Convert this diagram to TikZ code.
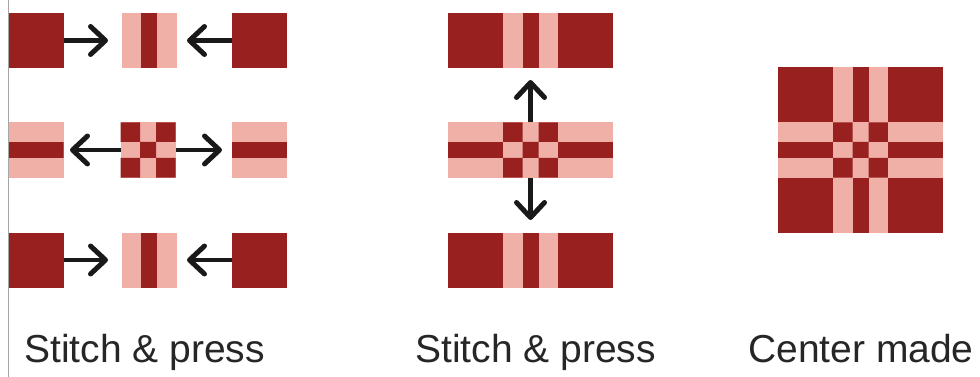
\documentclass[tikz,border=0pt]{standalone}
\usepackage{fontspec}
\setsansfont{Liberation Sans}
\usetikzlibrary{positioning,arrows.meta}

\definecolor{quiltred}{RGB}{152,32,30}
\definecolor{quiltpink}{RGB}{240,176,168}

\tikzset{
  piece/.style={inner sep=0pt,outer sep=0pt,minimum size=55pt,fill=quiltred},
  vpiece/.style={piece,fill=quiltpink,path picture={
    \fill[quiltred] ([xshift=-8pt]path picture bounding box.north) rectangle ([xshift=8pt]path picture bounding box.south);}},
  hpiece/.style={piece,fill=quiltpink,path picture={
    \fill[quiltred] ([yshift=8pt]path picture bounding box.west) rectangle ([yshift=-8pt]path picture bounding box.east);}},
  ckpiece/.style={piece,fill=quiltpink,path picture={
    \fill[quiltred] (path picture bounding box.north west) rectangle ++(19.5pt,-19.5pt)
      (path picture bounding box.north east) rectangle ++(-19.5pt,-19.5pt)
      (path picture bounding box.south west) rectangle ++(19.5pt,19.5pt)
      (path picture bounding box.south east) rectangle ++(-19.5pt,19.5pt)
      ([shift={(-8pt,8pt)}]path picture bounding box.center) rectangle ++(16pt,-16pt);}},
  arr/.style={line width=4.5pt,black!90,-{Straight Barb[length=15pt,width=28pt,line width=5pt,round]}},
  caption/.style={anchor=base west,inner sep=0pt,text=black!85,font=\sffamily\fontsize{39}{44}\selectfont}
}

\begin{document}
\begin{tikzpicture}[x=1pt,y=-1pt]
\useasboundingbox (0,0) rectangle (980,377);
\draw[line width=1.5pt,black!35] (8.5,0) -- (8.5,377);

% first stitching
\node[piece]   (sqA) at (36,40.5) {};
\node[vpiece]  (vA)  at (149,40.5) {};
\node[piece]   (sqB) at (259.5,40.5) {};
\node[hpiece]  (hA)  at (36,150) {};
\node[ckpiece] (ckA) at (148,150) {};
\node[hpiece]  (hB)  at (259.5,150) {};
\node[piece]   (sqC) at (36,260) {};
\node[vpiece]  (vC)  at (149,260) {};
\node[piece]   (sqD) at (259.5,260) {};

\coordinate (tA) at (108,40.5);
\coordinate (tB) at (187,40.5);
\coordinate (tC) at (70,150);
\coordinate (tD) at (222,150);
\coordinate (tE) at (108,260);
\coordinate (tF) at (187,260);
\draw[arr] (sqA) -- (tA);
\draw[arr] (sqB) -- (tB);
\draw[arr] (ckA) -- (tC);
\draw[arr] (ckA) -- (tD);
\draw[arr] (sqC) -- (tE);
\draw[arr] (sqD) -- (tF);

% second stitching
\node[piece]   (mTl) at (475.5,40.5) {};
\node[vpiece,right=0pt of mTl] (mTm) {};
\node[piece,right=0pt of mTm]  (mTr) {};
\node[hpiece]  (mMl) at (475.5,150) {};
\node[ckpiece,right=0pt of mMl] (mMm) {};
\node[hpiece,right=0pt of mMm]  (mMr) {};
\node[piece]   (mBl) at (475.5,260) {};
\node[vpiece,right=0pt of mBl] (mBm) {};
\node[piece,right=0pt of mBm]  (mBr) {};

\coordinate (tUp) at (530.5,80);
\coordinate (tDn) at (530.5,220);
\draw[arr] (mMm) -- (tUp);
\draw[arr] (mMm) -- (tDn);

% center made
\node[ckpiece] (cC) at (860.5,150) {};
\node[vpiece,above=0pt of cC] (cN) {};
\node[vpiece,below=0pt of cC] (cS) {};
\node[hpiece,left=0pt of cC]  (cW) {};
\node[hpiece,right=0pt of cC] (cE) {};
\node[piece,left=0pt of cN]   (cNW) {};
\node[piece,right=0pt of cN]  (cNE) {};
\node[piece,left=0pt of cS]   (cSW) {};
\node[piece,right=0pt of cS]  (cSE) {};

\node[caption] (capA) at (24,362) {Stitch \& press};
\node[caption] (capB) at (415,362) {Stitch \& press};
\node[caption] (capC) at (748,362) {Center made};
\end{tikzpicture}
\end{document}
